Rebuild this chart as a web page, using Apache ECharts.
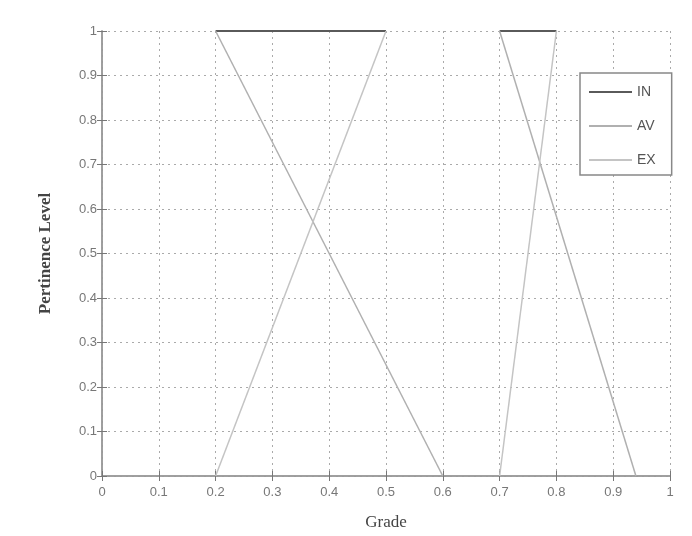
<!DOCTYPE html>
<html><head><meta charset="utf-8">
<script src="https://cdn.jsdelivr.net/npm/echarts@6/dist/echarts.min.js"></script>
<style>html,body{margin:0;padding:0;background:#fff}#c{width:692px;height:536px}</style>
</head><body><div id="c"></div>
<script>
// Tick labels
const xTicks = ['0','0.1','0.2','0.3','0.4','0.5','0.6','0.7','0.8','0.9','1'];
const yTicks = ['0','0.1','0.2','0.3','0.4','0.5','0.6','0.7','0.8','0.9','1'];
// Series segments: [x, y] points
const inSeg1 = [[0.2, 1], [0.5, 1]];
const inSeg2 = [[0.7, 1], [0.8, 1]];
const avSeg1 = [[0.2, 1], [0.6, 0]];
const avSeg2 = [[0.7, 1], [0.94, 0]];
const exSeg1 = [[0.2, 0], [0.5, 1]];
const exSeg2 = [[0.7, 0], [0.8, 1]];
const names = ['IN', 'AV', 'EX'];
const colors = ['#5a5a5a', '#b0b0b0', '#c4c4c4'];

const seg = (name, data, color, w) => ({
  name, type: 'line', data, symbol: 'none', silent: true,
  lineStyle: { color, width: w }, itemStyle: { color },
  xAxisIndex: 0, yAxisIndex: 0, z: 5
});

const tickFont = { color: '#777', fontFamily: 'Liberation Sans, Arial, sans-serif', fontSize: 13 };
const chart = echarts.init(document.getElementById('c'));
chart.setOption({
  animation: false,
  backgroundColor: '#fff',
  grid: { left: 102, top: 31, width: 568, height: 445, containLabel: false },
  legend: {
    data: names, orient: 'vertical', left: 580, top: 73,
    itemWidth: 43, itemHeight: 2, itemGap: 20,
    icon: 'rect',
    backgroundColor: '#fff', borderColor: '#888', borderWidth: 1.5,
    padding: [12, 16, 8, 9],
    textStyle: { color: '#555', fontFamily: 'Liberation Sans, Arial, sans-serif', fontSize: 14 }
  },
  xAxis: [{
    type: 'value', min: 0, max: 1, interval: 0.1,
    axisLine: { show: true, lineStyle: { color: '#999', width: 1.5 } },
    axisTick: { show: true, inside: true, length: 5, lineStyle: { color: '#777' } },
    axisLabel: Object.assign({ margin: 10, formatter: (v) => xTicks[Math.round(v * 10)] }, tickFont),
    splitLine: { show: true, lineStyle: { color: '#aaa', type: [2, 4], width: 1 } },
    name: 'Grade', nameLocation: 'middle', nameGap: 38,
    nameTextStyle: { color: '#444', fontFamily: 'Liberation Serif, Times New Roman, serif', fontSize: 17 }
  }, {
    type: 'value', min: 0, max: 1, interval: 0.1, position: 'top',
    axisLine: { show: true, lineStyle: { color: '#999', width: 1.5 } },
    axisTick: { show: true, inside: true, length: 5, lineStyle: { color: '#777' } },
    axisLabel: { show: false }, splitLine: { show: false }
  }],
  yAxis: [{
    type: 'value', min: 0, max: 1, interval: 0.1,
    axisLine: { show: true, lineStyle: { color: '#999', width: 1.5 } },
    axisTick: { show: true, inside: true, length: 5, lineStyle: { color: '#777' } },
    axisLabel: Object.assign({ margin: 5, formatter: (v) => yTicks[Math.round(v * 10)] }, tickFont),
    splitLine: { show: true, lineStyle: { color: '#aaa', type: [2, 4], width: 1 } },
    name: 'Pertinence Level', nameLocation: 'middle', nameGap: 48,
    nameTextStyle: { color: '#444', fontFamily: 'Liberation Serif, Times New Roman, serif', fontSize: 17, fontWeight: 'bold' }
  }, {
    type: 'value', min: 0, max: 1, interval: 0.1, position: 'right',
    axisLine: { show: true, lineStyle: { color: '#999', width: 1.5 } },
    axisTick: { show: true, inside: true, length: 5, lineStyle: { color: '#777' } },
    axisLabel: { show: false }, splitLine: { show: false }
  }],
  series: [
    seg('IN', inSeg1, colors[0], 2),
    seg('IN', inSeg2, colors[0], 2),
    seg('AV', avSeg1, colors[1], 1.5),
    seg('AV', avSeg2, colors[1], 1.5),
    seg('EX', exSeg1, colors[2], 1.5),
    seg('EX', exSeg2, colors[2], 1.5)
  ]
});
</script></body></html>
